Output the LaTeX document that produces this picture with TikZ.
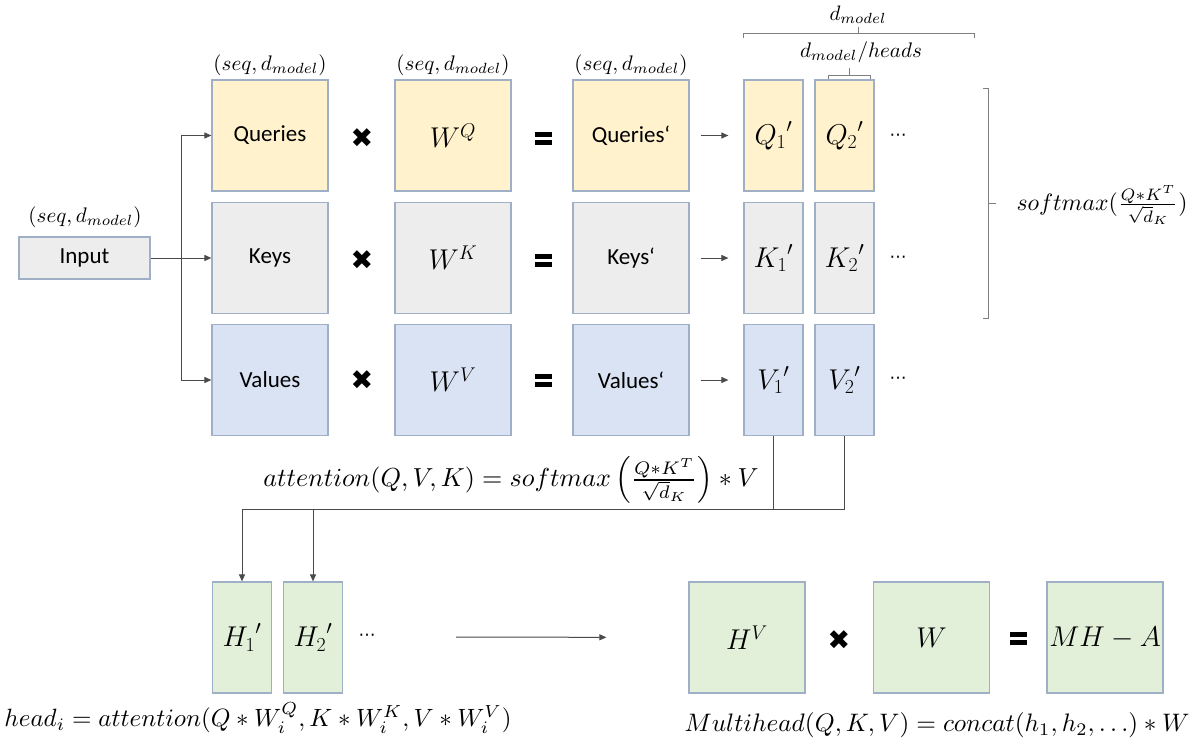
\documentclass[tikz,border=0pt]{standalone}
\usepackage[no-math]{fontspec}
\setmainfont{Carlito}
\newfontfamily\djv{DejaVu Sans}
\usepackage{graphicx}
\usetikzlibrary{arrows.meta,calc}
\definecolor{qfill}{HTML}{FFF2CC}
\definecolor{kfill}{HTML}{EDEDED}
\definecolor{vfill}{HTML}{DAE3F3}
\definecolor{hfill}{HTML}{E2F0D9}
\definecolor{bordc}{HTML}{9FAFC5}
\definecolor{linec}{HTML}{4A4A4A}
\definecolor{brkc}{HTML}{7F7F7F}
\newcommand\fitw[2]{\resizebox{#1}{!}{#2}}
\newcommand\bxm[1]{\scalebox{1.15}{$#1$}}
\newcommand\dotsym{{\djv\fontsize{17}{19}\selectfont ⋯}}
\newcommand\heavyx{{\djv\fontsize{27}{30}\selectfont ✖}}
\newcommand\heavyeq{\vbox{\hrule width 17pt height 5pt\vskip 3pt\hrule width 17pt height 5pt}}
\begin{document}
\begin{tikzpicture}[x=1pt,y=-1pt,
  box/.style={draw=bordc,line width=1.2pt,inner sep=0pt,font=\fontsize{23}{26}\selectfont},
  sq/.style={box,minimum width=116pt,minimum height=111pt},
  colbox/.style={box,minimum width=59pt,minimum height=111pt},
  arr/.style={draw=linec,line width=1pt,-{Triangle[length=7pt,width=6pt]}},
  brk/.style={draw=brkc,line width=1pt},
  lbl/.style={inner sep=0pt},
  op/.style={inner sep=0pt},
  dotsn/.style={inner sep=0pt}]
\useasboundingbox (0,0) rectangle (1192,744);

% Input
\node[box,fill=kfill,minimum width=131pt,minimum height=42pt] (in) at (84.5,258) {Input};
\node[lbl] (lin) at (85,217) {\fitw{113pt}{$(seq,d_{model})$}};

% Queries row
\node[sq,fill=qfill] (q) at (270,135.5) {Queries};
\node[sq,fill=qfill] (wq) at (453,135.5) {\bxm{W^Q}};
\node[sq,fill=qfill] (qp) at (631,135.5) {Queries‘};
\node[colbox,fill=qfill] (q1) at (773.5,135.5) {\bxm{{Q_1}'}};
\node[colbox,fill=qfill] (q2) at (844.5,135.5) {\bxm{{Q_2}'}};
\node[dotsn] (qd) at (898,137) {\dotsym};
\node[op] (xq) at (362,138) {\heavyx};
\node[op] (eq) at (543,138) {\heavyeq};

% Keys row
\node[sq,fill=kfill] (k) at (270,258) {Keys};
\node[sq,fill=kfill] (wk) at (453,258) {\bxm{W^K}};
\node[sq,fill=kfill] (kp) at (631,258) {Keys‘};
\node[colbox,fill=kfill] (k1) at (773.5,258) {\bxm{{K_1}'}};
\node[colbox,fill=kfill] (k2) at (844.5,258) {\bxm{{K_2}'}};
\node[dotsn] (kd) at (898,259) {\dotsym};
\node[op] (xk) at (362,260) {\heavyx};
\node[op] (ek) at (543,260) {\heavyeq};

% Values row
\node[sq,fill=vfill] (v) at (270,380) {Values};
\node[sq,fill=vfill] (wv) at (453,380) {\bxm{W^V}};
\node[sq,fill=vfill] (vp) at (631,380) {Values‘};
\node[colbox,fill=vfill] (v1) at (773.5,380) {\bxm{{V_1}'}};
\node[colbox,fill=vfill] (v2) at (844.5,380) {\bxm{{V_2}'}};
\node[dotsn] (vd) at (898,380) {\dotsym};
\node[op] (xv) at (362,380) {\heavyx};
\node[op] (ev) at (543,380) {\heavyeq};

% top labels
\node[lbl] (lq) at (270,65) {\fitw{113pt}{$(seq,d_{model})$}};
\node[lbl] (lwq) at (453,65) {\fitw{113pt}{$(seq,d_{model})$}};
\node[lbl] (lqp) at (631,65) {\fitw{113pt}{$(seq,d_{model})$}};
\node[lbl] (ldm) at (858,15) {\fitw{57pt}{$d_{model}$}};
\node[lbl] (ldh) at (861,52) {\fitw{122pt}{$d_{model}/heads$}};

% braces
\draw[brk] (743,38) -- (743,33) -- (974,33) -- (974,38);
\draw[brk] (858,33) -- (858,27);
\draw[brk] (828,79) -- (828,75) -- (870,75) -- (870,79);
\draw[brk] (849,75) -- (849,68);
\draw[brk] (983,88) -- (988,88) -- (988,318) -- (983,318);
\draw[brk] (988,203) -- (996,203);
\node[lbl] (sm) at (1102,205) {\fitw{171pt}{$softmax(\frac{Q*K^T}{\sqrt{d}_K})$}};

% input connectors
\coordinate (split) at (181,258);
\draw[arr] (in.east) -- (k.west);
\draw[arr] (split) |- (q.west);
\draw[arr] (split) |- (v.west);

% split arrows
\draw[arr,shorten <=11pt,shorten >=15pt] (qp.east) -- (q1.west);
\draw[arr,shorten <=11pt,shorten >=15pt] (kp.east) -- (k1.west);
\draw[arr,shorten <=11pt,shorten >=15pt] (vp.east) -- (v1.west);

% attention formula
\node[lbl] (att) at (511,480) {\fitw{495pt}{$attention(Q,V,K)=softmax\left(\frac{Q*K^T}{\sqrt{d}_K}\right)*V$}};

% heads
\node[colbox,fill=hfill] (h1) at (242,637.5) {\bxm{{H_1}'}};
\node[colbox,fill=hfill] (h2) at (313,637.5) {\bxm{{H_2}'}};
\node[dotsn] (hd) at (367,637) {\dotsym};

\coordinate (bus) at (0,509);
\draw[arr] (v1.south) -- (v1.south |- bus) -| (h1.north);
\draw[arr] (v2.south) -- (v2.south |- bus) -| (h2.north);

% bottom row
\node[sq,fill=hfill] (hv) at (747,637.5) {\bxm{H^V}};
\node[sq,fill=hfill] (w) at (931.5,637.5) {\bxm{W}};
\node[sq,fill=hfill] (mha) at (1105,637.5) {\bxm{MH-A}};
\node[op] (xh) at (839,640) {\heavyx};
\node[op] (eh) at (1018,638) {\heavyeq};
\coordinate (hstart) at (456,637);
\draw[arr,shorten >=82pt] (hstart) -- (hv.west);

\node[lbl] (headf) at (258,718) {\fitw{507pt}{$head_i=attention(Q*W_i^Q,K*W_i^K,V*W_i^V)$}};
\node[lbl] (mhf) at (937,725) {\fitw{505pt}{$Multihead(Q,K,V)=concat(h_1,h_2,\ldots)*W$}};
\end{tikzpicture}
\end{document}
